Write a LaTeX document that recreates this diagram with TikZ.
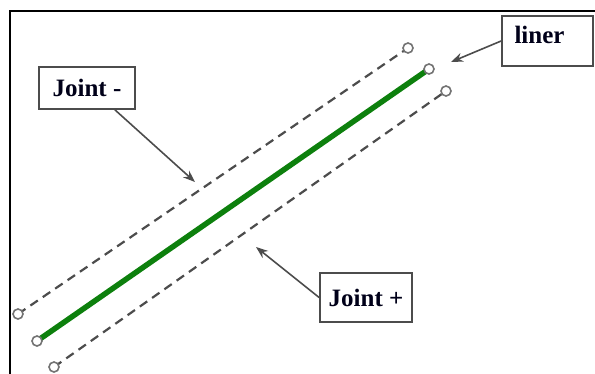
\documentclass[tikz,border=0pt]{standalone}
\usepackage{fontspec}
\setmainfont{Liberation Serif}
\usetikzlibrary{arrows.meta,calc,positioning}
\definecolor{liner}{rgb}{0.05,0.5,0.05}
\definecolor{boxline}{rgb}{0.3,0.3,0.3}
\tikzset{
  label box/.style={draw=boxline,line width=1.8pt,fill=white,inner sep=0pt,
    font=\fontsize{25}{28}\selectfont\bfseries,text=black!90!blue},
  joint line/.style={draw=black!70,line width=2.2pt,dash pattern=on 9pt off 6pt},
  end ring/.style={circle,draw=black!55,line width=1.6pt,fill=white,inner sep=0pt,minimum size=10pt},
  pointer/.style={draw=black!70,line width=1.6pt,-{Stealth[length=12pt,width=9pt]}}
}
\begin{document}
\begin{tikzpicture}[x=1pt,y=-1pt]
      \useasboundingbox (0,0) rectangle (595,373);
      % Frame
      \draw[line width=2.2pt] (10,11) rectangle (640,420);
      % Joint - line
      \coordinate (um) at (18,314);
      \coordinate (un) at (408,48);
      \draw[joint line] (um) -- (un);
      % Liner
      \coordinate (lm) at (37,341);
      \coordinate (ln) at (429,69);
      \draw[liner,line width=5.5pt] (lm) -- (ln);
      % Joint + line
      \coordinate (dm) at (54,367);
      \coordinate (dn) at (446,91);
      \draw[joint line] (dm) -- (dn);
      % Line ends
      \foreach \p in {um,un,lm,ln,dm,dn}
        \node[end ring] at (\p) {};
      % Labels
      \node[label box,minimum width=96pt,minimum height=42pt] (jm) at (87,88) {Joint -};
      \node[label box,minimum width=92pt,minimum height=49pt] (jp) at (366,297.5) {Joint +};
      \node[label box,minimum width=91pt,minimum height=50pt,text width=78pt,align=left,
        text depth=12pt] (lb) at (547.5,41) {\hspace*{6pt}liner};
      % Pointers
      \coordinate (jmtip) at (195,182);
      \coordinate (jptip) at (256,247);
      \coordinate (lbtip) at (451,62);
      \draw[pointer] ([xshift=28pt]jm.south) -- (jmtip);
      \draw[pointer] (jp.west) -- (jptip);
      \draw[pointer] (lb.west) -- (lbtip);
    \end{tikzpicture}
\end{document}
